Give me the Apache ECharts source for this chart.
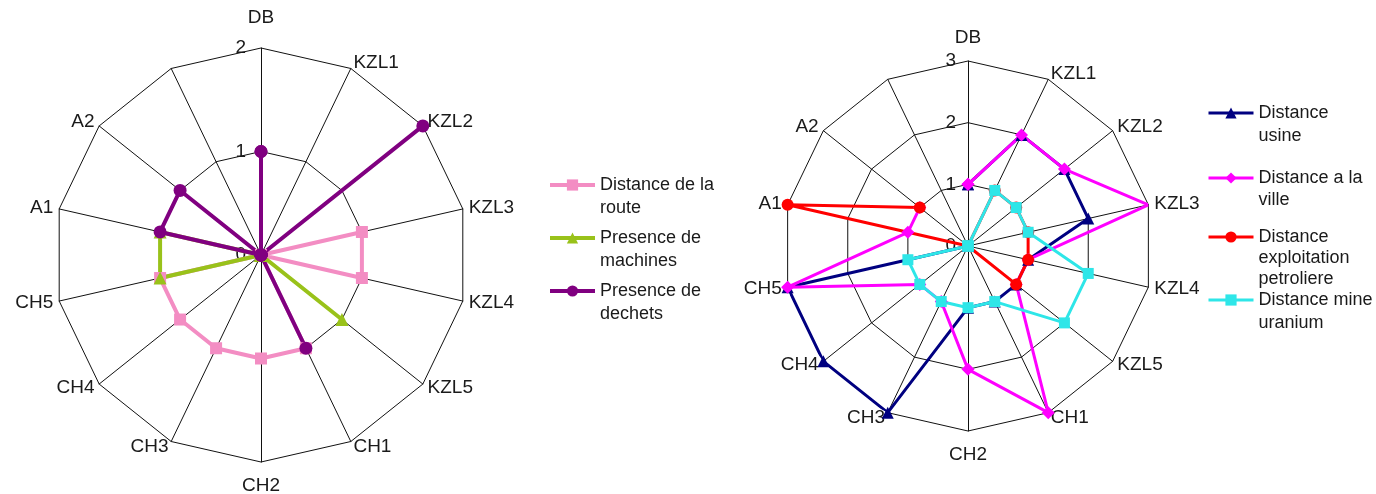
<!DOCTYPE html>
<html>
<head>
<meta charset="utf-8">
<script src="https://cdn.jsdelivr.net/npm/echarts@6/dist/echarts.min.js"></script>
<style>html,body{margin:0;padding:0;background:#fff}#c{width:1376px;height:494px}</style>
</head>
<body>
<div id="c"></div>
<script>
// ---- data ----
const categories = ['DB','KZL1','KZL2','KZL3','KZL4','KZL5','CH1','CH2','CH3','CH4','CH5','A1','A2',''];
const leftTickLabels = ['0','1','2'];
const rightTickLabels = ['0','1','2','3'];

// left chart
const routeValues    = [0,0,0,1,1,0,1,1,1,1,1,0,0,0];
const machinesValues = [0,0,0,0,0,1,0,0,0,0,1,1,0,0];
const dechetsValues  = [1,0,2,0,0,0,1,0,0,0,0,1,1,0];

// right chart (last category empty -> gap)
const usineValues    = [1,2,2,2,1,1,1,1,3,3,3,0,0,null];
const villeValues    = [1,2,2,3,1,1,3,2,1,1,3,1,1,null];
const petroleValues  = [0,1,1,1,1,1,0,0,0,0,0,3,1,null];
const uraniumValues  = [0,1,1,1,2,2,1,1,1,1,1,0,0,null];

const leftNames  = ['Distance de la\nroute','Presence de\nmachines','Presence de\ndechets'];
const rightNames = ['Distance\nusine','Distance a la\nville','Distance\nexploitation\npetroliere','Distance mine\nuranium'];

// ---- helpers ----
const FONT = 'Liberation Sans, Arial, sans-serif';
const TXT = '#1a1a1a';
const GRID = '#111111';

// radar places indicators counter-clockwise; reorder so the grid reads clockwise
function radarIndicators(max) {
  const order = [0].concat(categories.map((c, i) => i).slice(1).reverse());
  return order.map(i => {
    const o = { name: categories[i], min: 0, max: max };
    if (i === 0) o.axisLabel = { show: true };
    return o;
  });
}
function toPolar(vals) {
  const pts = vals.map((v, i) => [v == null ? '-' : v, i]);
  pts.push([vals[0], vals.length]);
  return pts;
}
function radarCfg(center, radius, max, ticks, topPad, labelMargin) {
  return {
    center: center, radius: radius, startAngle: 90, shape: 'polygon', splitNumber: max,
    indicator: radarIndicators(max),
    nameGap: 6,
    axisName: {
      color: TXT, fontSize: 19, fontFamily: FONT,
      formatter: function (name) {
        if (name === 'DB') return '{t|DB}';
        if (name === 'CH2') return '{b|CH2}';
        return name;
      },
      rich: {
        t: { color: TXT, fontSize: 19, fontFamily: FONT, padding: [0, 0, topPad, 0] },
        b: { color: TXT, fontSize: 19, fontFamily: FONT, padding: [8, 0, 0, 0] }
      }
    },
    splitLine: { lineStyle: { color: GRID, width: 1 } },
    splitArea: { show: false },
    axisLine: { lineStyle: { color: GRID, width: 1 } },
    axisTick: { show: false },
    axisLabel: { show: false, color: TXT, fontSize: 19, fontFamily: FONT, margin: labelMargin,
      formatter: function (v) { return ticks[Math.round(v)]; } }
  };
}
function legendItem(name, x, yIcon, lh, lw) {
  const n = name.split('\n').length;
  const half = (2 * n - 1) * lh / 2;
  return {
    data: [name], left: x, top: yIcon - Math.max(7, half), padding: 0,
    orient: 'vertical', itemWidth: 45, itemHeight: 14, itemGap: 0, selectedMode: false,
    lineStyle: { width: lw },
    formatter: function (nm) { return '\n'.repeat(n - 1) + nm; },
    textStyle: { color: TXT, fontSize: 18, fontFamily: FONT, lineHeight: lh }
  };
}
function lineSeries(name, polarIndex, vals, color, symbol, size, width) {
  return {
    name: name, type: 'line', coordinateSystem: 'polar', polarIndex: polarIndex,
    data: toPolar(vals), symbol: symbol, symbolSize: size, showSymbol: true, showAllSymbol: true,
    connectNulls: false,
    lineStyle: { color: color, width: width },
    itemStyle: { color: color },
    emphasis: { disabled: true }
  };
}

const option = {
  animation: false,
  backgroundColor: '#fff',
  textStyle: { fontFamily: FONT },
  radar: [
    radarCfg([261, 255], 207, 2, leftTickLabels, 15, 15),
    radarCfg([968, 246], 185, 3, rightTickLabels, 8, 12)
  ],
  polar: [
    { center: [261, 255], radius: 207 },
    { center: [968, 246], radius: 185 }
  ],
  angleAxis: [
    { polarIndex: 0, type: 'value', min: 0, max: 14, startAngle: 90, clockwise: true, show: false },
    { polarIndex: 1, type: 'value', min: 0, max: 14, startAngle: 90, clockwise: true, show: false }
  ],
  radiusAxis: [
    { polarIndex: 0, type: 'value', min: 0, max: 2, show: false },
    { polarIndex: 1, type: 'value', min: 0, max: 3, show: false }
  ],
  legend: [
    legendItem(leftNames[0], 548, 185, 23, 4),
    legendItem(leftNames[1], 548, 238, 23, 4),
    legendItem(leftNames[2], 548, 291, 23, 4),
    legendItem(rightNames[0], 1207, 113, 23, 3),
    legendItem(rightNames[1], 1207, 178, 22, 3),
    legendItem(rightNames[2], 1207, 237, 21, 3),
    legendItem(rightNames[3], 1207, 300, 23, 3)
  ],
  series: [
    lineSeries(leftNames[0], 0, routeValues, '#F38DC3', 'rect', 12, 4),
    lineSeries(leftNames[1], 0, machinesValues, '#99C21A', 'triangle', 13, 4),
    lineSeries(leftNames[2], 0, dechetsValues, '#800080', 'circle', 13, 4),
    lineSeries(rightNames[0], 1, usineValues, '#000080', 'triangle', 12, 3),
    lineSeries(rightNames[1], 1, villeValues, '#FF00FF', 'diamond', 13, 3),
    lineSeries(rightNames[2], 1, petroleValues, '#FF0000', 'circle', 12, 3),
    lineSeries(rightNames[3], 1, uraniumValues, '#2EE6E8', 'rect', 11, 3)
  ]
};

const chart = echarts.init(document.getElementById('c'), null, { renderer: 'canvas' });
chart.setOption(option);
</script>
</body>
</html>
